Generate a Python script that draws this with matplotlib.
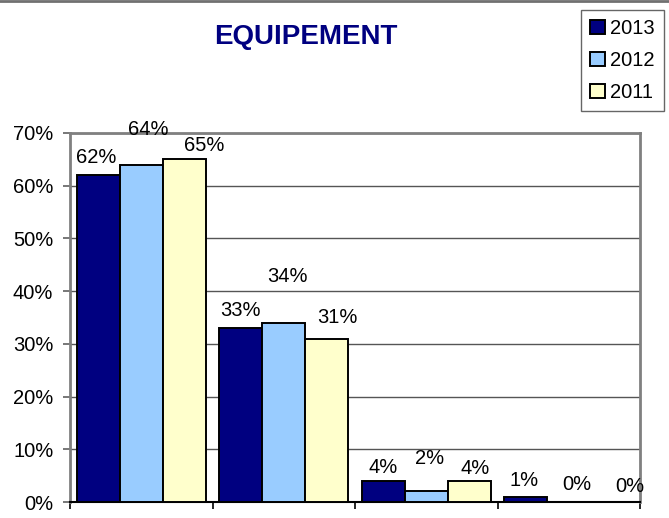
import numpy as np
import matplotlib
matplotlib.use("Agg")
import matplotlib.pyplot as plt
from matplotlib.patches import Patch
from matplotlib.lines import Line2D

# ---- data ----
groups = ["A", "B", "C", "D"]          # category labels are not shown on the chart
years = ["2013", "2012", "2011"]
vals_2013 = [62, 33, 4, 1]
vals_2012 = [64, 34, 2, 0]
vals_2011 = [65, 31, 4, 0]
yticks = [0, 10, 20, 30, 40, 50, 60, 70]

colors = ["#000080", "#99CCFF", "#FFFFCC"]

# label offsets (pixels) to mimic where the labels sit in the original
lab_dx = [[-2, 0, 0, -2], [7, 4, 3, 8], [20, 11, 6, 18]]
lab_dy = [[18, 18, 13, 16], [35, 46, 33, 17], [14, 21, 12, 15]]

plt.rcParams["font.family"] = ["Liberation Sans", "DejaVu Sans"]
FS = 14.5

fig = plt.figure(figsize=(6.69, 5.18), dpi=100)
ax = fig.add_axes([70 / 669, 1 - 502 / 518, 570 / 669, 369 / 518])

series = [vals_2013, vals_2012, vals_2011]
w = 43 / 142.5
gap = 1 - 3 * w
x0 = np.arange(len(groups))

for k, vals in enumerate(series):
    xs = x0 + gap / 2 + w * k + w / 2
    ax.bar(xs, vals, width=w, color=colors[k], edgecolor="black",
           linewidth=1.4, zorder=3)
    for i, v in enumerate(vals):
        ax.annotate(f"{v}%", xy=(xs[i], v),
                    xytext=(lab_dx[k][i] * 0.72, lab_dy[k][i] * 0.72),
                    textcoords="offset points", ha="center", va="center",
                    fontsize=FS, zorder=5)

ax.set_xlim(0, len(groups))
ax.set_ylim(0, 70)
ax.set_yticks(yticks)
ax.set_yticklabels([f"{t}%" for t in yticks], fontsize=FS)
ax.set_xticks(np.arange(len(groups) + 1))
ax.set_xticklabels([])
ax.tick_params(axis="y", length=5, width=1.2, pad=7, color="#606060")
ax.tick_params(axis="x", length=5, width=1.2, color="black")
ax.grid(axis="y", color="#555555", linewidth=1, zorder=0)
ax.set_axisbelow(True)

for side in ["top", "right", "left"]:
    ax.spines[side].set_color("#808080")
    ax.spines[side].set_linewidth(2)
ax.spines["bottom"].set_color("black")
ax.spines["bottom"].set_linewidth(1.5)

fig.text(306 / 669, 1 - 37 / 518, "EQUIPEMENT", ha="center", va="center",
         fontsize=20, fontweight="bold", color="#000080")

handles = [Patch(facecolor=c, edgecolor="black", linewidth=1.4) for c in colors]
leg = fig.legend(handles, years, loc="upper left",
                 bbox_to_anchor=(581 / 669, 1 - 10 / 518),
                 fontsize=FS, frameon=True, fancybox=False,
                 edgecolor="#404040", handlelength=0.72, handleheight=0.72,
                 handletextpad=0.28, labelspacing=0.65, borderpad=0.45,
                 borderaxespad=0)
leg.get_frame().set_linewidth(1)

# outer chart border (top edge visible in the original)
fig.add_artist(Line2D([0, 1], [0.998, 0.998], color="#707070", linewidth=2,
                      transform=fig.transFigure))

fig.savefig("out.png", dpi=100)
